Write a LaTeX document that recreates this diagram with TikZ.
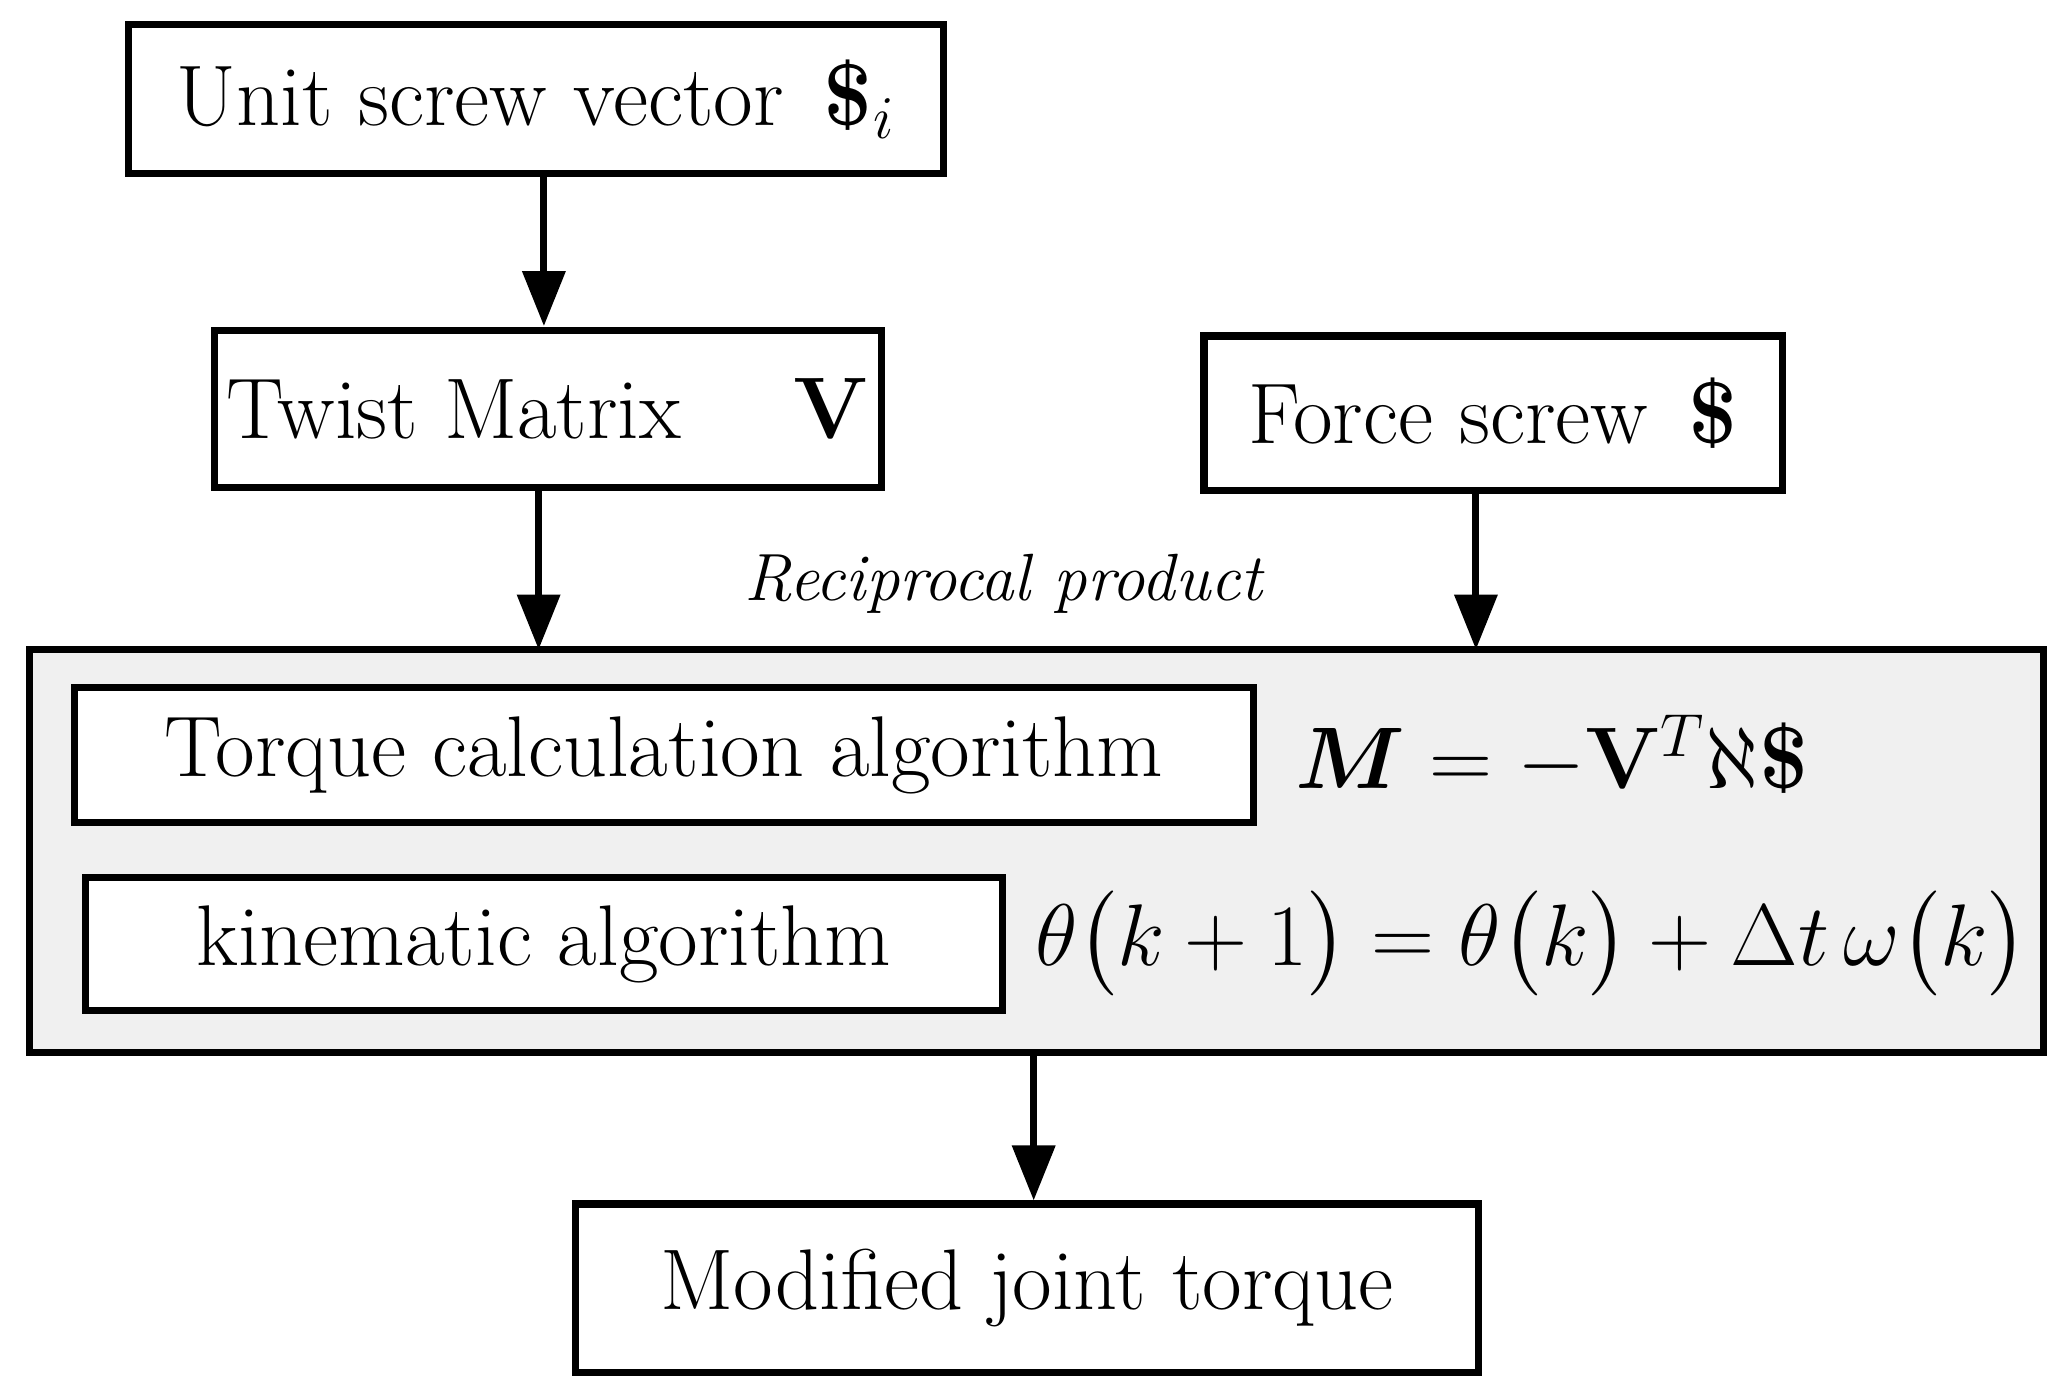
\documentclass[tikz,border=0pt]{standalone}
\usepackage{amsmath,bm}
\usetikzlibrary{arrows.meta}
\begin{document}
\begin{tikzpicture}[x=0.0132cm,y=-0.0132cm,
  box/.style={draw,line width=2pt,font=\fontsize{24.5}{28}\selectfont},
  arr/.style={line width=2pt,-{Triangle[length=0.55cm,width=0.42cm]}}]
\useasboundingbox (0,0) rectangle (1568,1060);
\draw[box,fill=gray!12] (22,492) rectangle (1548,797);
\coordinate (bigtopL) at (408,492);
\coordinate (bigtopR) at (1118,492);
\coordinate (bigbot) at (783,797);
\node[box,minimum width=618*0.0132cm,minimum height=113*0.0132cm] (unit) at (406,75) {Unit screw vector \,$\bm{\$}_i$};
\node[box,minimum width=505*0.0132cm,minimum height=119*0.0132cm] (twist) at (415,310) {Twist Matrix \quad$\mathbf{V}$};
\node[box,minimum width=438*0.0132cm,minimum height=117*0.0132cm] (force) at (1131,313) {Force screw \,$\bm{\$}$};
\node[box,fill=white,minimum width=893*0.0132cm,minimum height=102*0.0132cm] (torque) at (503,572) {Torque calculation algorithm};
\node[box,fill=white,minimum width=695*0.0132cm,minimum height=101*0.0132cm] (kin) at (412,715) {kinematic algorithm};
\node[box,minimum width=684*0.0132cm,minimum height=128*0.0132cm] (mod) at (778,976) {Modified joint torque};
\node[anchor=west,font=\fontsize{23.5}{28}\selectfont] (f1) at (972,572) {$\bm{M}=-\mathbf{V}^{T}\aleph\bm{\$}$};
\node[anchor=west,font=\fontsize{24.5}{30}\selectfont] (f2) at (775,715) {$\theta\bigl(k+1\bigr)=\theta\bigl(k\bigr)+\Delta t\,\omega\bigl(k\bigr)$};
\node[font=\fontsize{19}{22}\selectfont\itshape] (rp) at (760,442) {Reciprocal product};
\draw[arr] (unit.south -| 412,0) -- (412,247);
\draw[arr] (twist.south -| bigtopL) -- (bigtopL);
\draw[arr] (force.south -| bigtopR) -- (bigtopR);
\draw[arr] (bigbot) -- (mod.north -| bigbot);
\end{tikzpicture}
\end{document}
